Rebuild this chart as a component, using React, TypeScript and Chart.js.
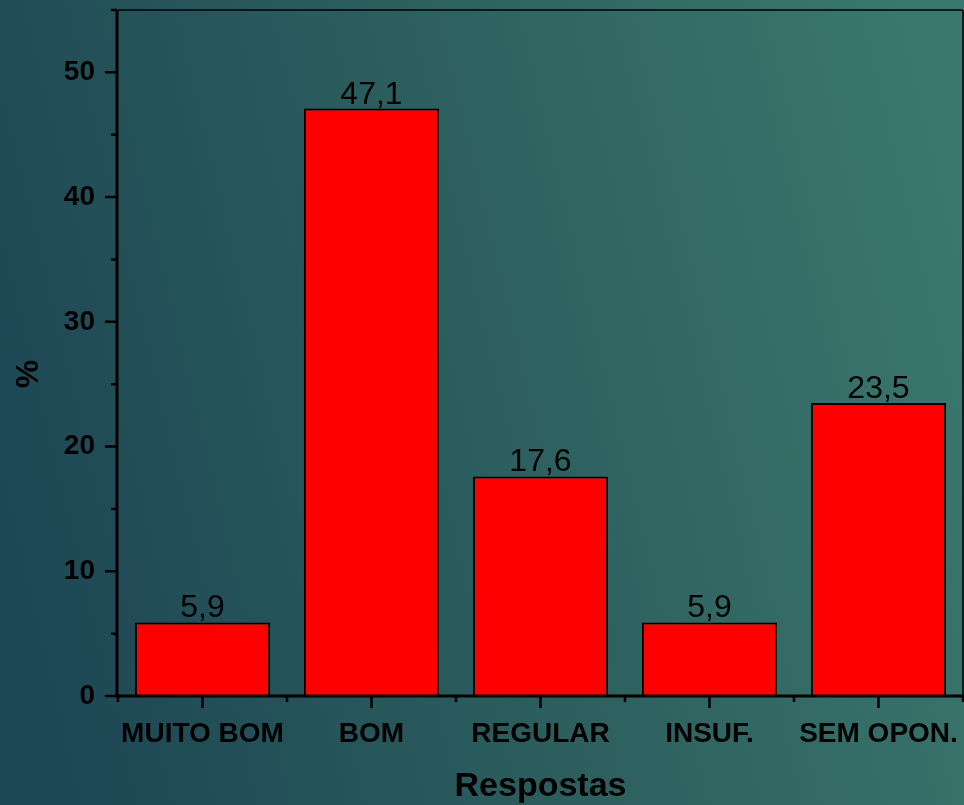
import React, { useEffect, useRef } from "react";
import { Chart, registerables } from "chart.js";

Chart.register(...registerables);

const categories = ["MUITO BOM", "BOM", "REGULAR", "INSUF.", "SEM OPON."];
const values = [5.9, 47.1, 17.6, 5.9, 23.5];
const valueLabels = ["5,9", "47,1", "17,6", "5,9", "23,5"];
const yMajorTicks = [0, 10, 20, 30, 40, 50];
const yMinorTicks = [5, 15, 25, 35, 45, 55];
const xTitle = "Respostas";
const yTitle = "%";

const FONT = "'Liberation Sans', Arial, sans-serif";

const decorPlugin = {
  id: "decor",
  beforeDraw(chart: any) {
    const { ctx, width, height } = chart;
    ctx.save();
    const g = ctx.createLinearGradient(0, 480, width, 250);
    g.addColorStop(0, "#1e4755");
    g.addColorStop(0.5, "#2c5f5e");
    g.addColorStop(1, "#3b776e");
    ctx.fillStyle = g;
    ctx.fillRect(0, 0, width, height);
    ctx.restore();
  },
  afterDatasetsDraw(chart: any) {
    const { ctx, chartArea } = chart;
    const xs = chart.scales.x;
    const ys = chart.scales.y;
    const { left, right, top, bottom } = chartArea;
    ctx.save();
    ctx.strokeStyle = "#000";
    ctx.lineCap = "butt";
    ctx.lineWidth = 1.5;
    ctx.beginPath();
    ctx.moveTo(left, top);
    ctx.lineTo(right, top);
    ctx.moveTo(right, top);
    ctx.lineTo(right, bottom);
    ctx.stroke();
    ctx.lineWidth = 3;
    ctx.beginPath();
    ctx.moveTo(left - 1, top);
    ctx.lineTo(left - 1, bottom + 1.5);
    ctx.moveTo(left - 2.5, bottom);
    ctx.lineTo(right + 1, bottom);
    ctx.stroke();
    ctx.lineWidth = 2.5;
    ctx.beginPath();
    yMajorTicks.forEach((v) => {
      const y = ys.getPixelForValue(v);
      ctx.moveTo(left - 13, y);
      ctx.lineTo(left - 1, y);
    });
    yMinorTicks.forEach((v) => {
      const y = ys.getPixelForValue(v);
      ctx.moveTo(left - 7, y);
      ctx.lineTo(left - 1, y);
    });
    categories.forEach((_, i) => {
      const x = xs.getPixelForValue(i);
      ctx.moveTo(x, bottom);
      ctx.lineTo(x, bottom + 12);
    });
    for (let i = 0; i <= categories.length; i++) {
      const x = xs.getPixelForValue(i - 0.5);
      ctx.moveTo(x, bottom);
      ctx.lineTo(x, bottom + 6);
    }
    ctx.stroke();
    const meta = chart.getDatasetMeta(0);
    ctx.fillStyle = "#000";
    ctx.font = `32px ${FONT}`;
    ctx.textAlign = "center";
    ctx.textBaseline = "alphabetic";
    meta.data.forEach((bar: any, i: number) => {
      ctx.fillText(valueLabels[i], bar.x, bar.y - 5);
    });
    ctx.font = `bold 34px ${FONT}`;
    ctx.fillText(xTitle, (left + right) / 2, 796);
    ctx.translate(38, 374);
    ctx.rotate(-Math.PI / 2);
    ctx.font = `bold 32px ${FONT}`;
    ctx.fillText(yTitle, 0, 0);
    ctx.restore();
  },
};

export default function App() {
  const ref = useRef<HTMLCanvasElement | null>(null);
  useEffect(() => {
    document.body.style.margin = "0";
    const canvas = ref.current!;
    const chart = new Chart(canvas, {
      type: "bar",
      data: {
        labels: categories,
        datasets: [
          {
            data: values,
            backgroundColor: "#ff0000",
            borderColor: "#000000",
            borderWidth: 2,
            categoryPercentage: 0.8,
            barPercentage: 1,
          },
        ],
      },
      options: {
        responsive: false,
        animation: false,
        layout: { padding: { top: 10, right: 1, left: 0, bottom: 0 } },
        plugins: { legend: { display: false }, tooltip: { enabled: false } },
        scales: {
          x: {
            grid: { display: false },
            border: { display: false },
            ticks: {
              color: "#000",
              font: { family: FONT, size: 28, weight: "bold" },
              padding: 13,
              maxRotation: 0,
              autoSkip: false,
            },
            afterFit: (s: any) => {
              s.height = 109;
              s.paddingLeft = 0;
              s.paddingRight = 0;
            },
          },
          y: {
            min: 0,
            max: 55,
            grid: { display: false },
            border: { display: false },
            ticks: {
              stepSize: 5,
              color: "#000",
              font: { family: FONT, size: 28, weight: "bold" },
              padding: 15,
              callback: (v: any) => (Number(v) % 10 === 0 ? String(v) : ""),
            },
            afterFit: (s: any) => {
              s.width = 118;
              s.paddingTop = 0;
              s.paddingBottom = 0;
            },
          },
        },
      },
      plugins: [decorPlugin],
    });
    return () => chart.destroy();
  }, []);
  return <canvas ref={ref} width={964} height={805} style={{ display: "block" }} />;
}
